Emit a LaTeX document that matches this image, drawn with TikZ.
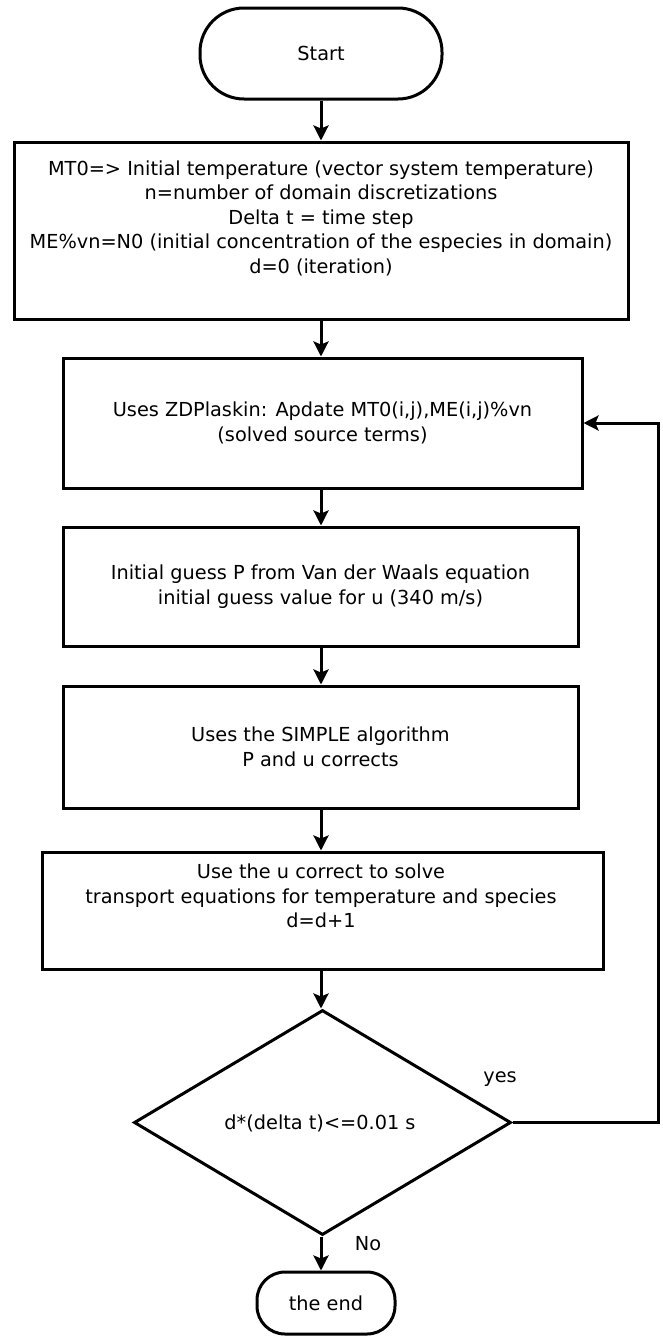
\documentclass[tikz,border=0pt]{standalone}
\usepackage{fontspec}
\setmainfont{DejaVu Sans}
\usetikzlibrary{arrows.meta,shapes.geometric}
\begin{document}
\begin{tikzpicture}[x=1pt,y=-1pt,
  font=\fontsize{19.3}{24.5}\selectfont,
  every node/.style={inner sep=0pt},
  box/.style={draw, rectangle, line width=3pt},
  term/.style={draw, rectangle, rounded corners=#1, line width=3pt},
  cond/.style={draw, diamond, line width=3pt, aspect=1.676},
  flow/.style={line width=3pt, -{Stealth[length=15pt,width=15pt,inset=3pt]}},
  txt/.style={align=center}]
\useasboundingbox[fill=white] (0,0) rectangle (662,1336);

% terminals, process boxes and the decision
\node[term=44pt, minimum width=242pt, minimum height=91pt] (start) at (321,53.5) {Start};

\node[box, minimum width=614pt, minimum height=177pt] (init) at (321,230.5) {};
\node[txt] (inittext) at (321,218) {MT0=> Initial temperature (vector system temperature)\\
  n=number of domain discretizations\\
  Delta t = time step\\
  ME\%vn=N0 (initial concentration of the especies in domain)\\
  d=0 (iteration)};

\node[box, txt, minimum width=519pt, minimum height=130pt] (zdp) at (322.5,423)
  {Uses ZDPlaskin: Apdate MT0(i,j),ME(i,j)\%vn\\(solved source terms)};

\node[box, txt, minimum width=515pt, minimum height=119pt] (guess) at (320.5,586.5)
  {Initial guess P from Van der Waals equation\\initial guess value for u (340 m/s)};

\node[box, txt, minimum width=515pt, minimum height=122pt] (simple) at (320.5,747)
  {Uses the SIMPLE algorithm\\ P and u corrects};

\node[box, minimum width=561pt, minimum height=117pt] (transp) at (322.5,910.5) {};
\node[txt] (transptext) at (321,896) {Use the u correct to solve\\
  transport equations for temperature and species\\
  d=d+1};

\node[cond, minimum width=377pt, minimum height=225pt] (cond) at (322.5,1122.5) {};
\node (condtext) at (320,1123) {d*(delta t)<=0.01 s};

\node[term=28pt, minimum width=138pt, minimum height=62pt] (end) at (326,1303) {the end};

% branch labels
\node (yes) at (500,1079) {yes};
\node (no) at (368,1244) {No};

% connectors
\coordinate (loop) at (658,1122.5);
\draw[flow] (start.south) -- (start.south |- init.north);
\draw[flow] (init.south) -- (init.south |- zdp.north);
\draw[flow] (init.south |- zdp.south) -- (init.south |- guess.north);
\draw[flow] (init.south |- guess.south) -- (init.south |- simple.north);
\draw[flow] (init.south |- simple.south) -- (init.south |- transp.north);
\draw[flow] (init.south |- transp.south) -- (init.south |- cond.north);
\draw[flow] (init.south |- cond.south) -- (init.south |- end.north);
\draw[flow] (cond.east) -- (loop) |- (zdp.east);
\end{tikzpicture}
\end{document}
